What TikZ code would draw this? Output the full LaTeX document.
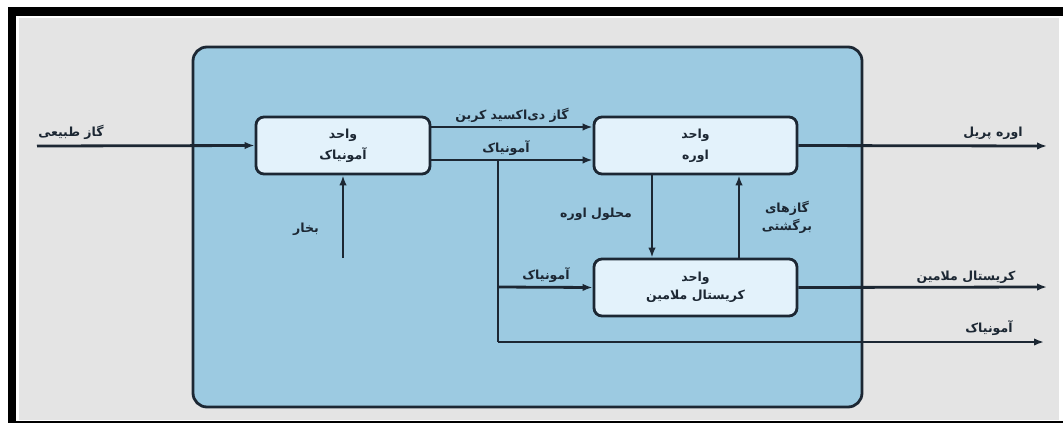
\documentclass[tikz,border=0pt]{standalone}
\usepackage{fontspec}
\usetikzlibrary{positioning, arrows.meta}
\TeXXeTstate=1
\newfontfamily\arabicfont[Script=Arabic, BoldFont={DejaVu Sans Bold}]{DejaVu Sans}
\newcommand{\fa}[1]{\beginR #1\endR}
\definecolor{pgrey}{HTML}{E4E4E4}
\definecolor{pblue}{HTML}{9CCAE1}
\definecolor{plight}{HTML}{E3F2FB}
\definecolor{pdark}{HTML}{1C2733}

\begin{document}
\begin{tikzpicture}[x=1pt, y=-1pt,
    unitbox/.style={draw=pdark, line width=2.8pt, fill=plight, rounded corners=8pt,
        minimum height=57pt, align=center, text=pdark,
        font=\arabicfont\bfseries\fontsize{12.5}{21}\selectfont},
    flow/.style={draw=pdark, line width=2.8pt, -{Latex[length=10pt, width=7.5pt]}},
    pipe/.style={draw=pdark, line width=2.8pt},
    tag/.style={text=pdark, inner sep=0pt, align=center,
        font=\arabicfont\bfseries\fontsize{12.5}{18}\selectfont}]
    % frame and background
    \useasboundingbox (0,0) rectangle (1063,423);
    \fill[white] (0,0) rectangle (1063,423);
    \fill[black] (8,7) rectangle (1063,423);
    \fill[white] (16,16) rectangle (1063,421);
    \fill[pgrey] (19,18) rectangle (1059,420);

    % plant boundary
    \draw[pdark, line width=2.8pt, fill=pblue, rounded corners=14pt] (193,47) rectangle (862,407);

    % units
    \node[unitbox, minimum width=174pt] (ammonia) at (343,145.5) {\fa{واحد}\\\fa{آمونیاک}};
    \node[unitbox, minimum width=203pt] (urea) at (695.5,145.5) {\fa{واحد}\\\fa{اوره}};
    \node[unitbox, minimum width=203pt, font=\arabicfont\bfseries\fontsize{12.5}{18}\selectfont] (melamine) at (695.5,287.5) {\fa{واحد}\\\fa{کریستال ملامین}};

    % free ends
    \coordinate (gasin) at (37,146);
    \coordinate (steamin) at (343,258);
    \coordinate (prillout) at (1047,146);
    \coordinate (crystalout) at (1047,287);
    \coordinate (nh3out) at (1044,342);
    \coordinate (split) at (498,160);
    \coordinate (corner) at (498,342);
    \coordinate (branch) at (498,287);

    % streams
    \draw[flow] (gasin) -- (ammonia.west);
    \draw[flow] (ammonia.east |- 0,127) -- (urea.west |- 0,127);
    \draw[flow] (ammonia.east |- split) -- (urea.west |- split);
    \draw[flow] (steamin) -- (ammonia.south);
    \draw[flow] (urea.east) -- (prillout);
    \draw[flow] (urea.south -| 652,0) -- (melamine.north -| 652,0);
    \draw[flow] (melamine.north -| 739,0) -- (urea.south -| 739,0);
    \draw[flow] (melamine.east) -- (crystalout);
    \draw[pipe] (split) -- (corner);
    \draw[flow] (corner) -- (nh3out);
    \draw[flow] (branch) -- (melamine.west);

    % labels
    \node[tag] (gaslbl) at (71,132) {\fa{گاز طبیعی}};
    \node[tag] (co2lbl) at (512,115) {\fa{گاز دی‌اکسید کربن}};
    \node[tag] (nh3lbl) at (506,148) {\fa{آمونیاک}};
    \node[tag] (steamlbl) at (306,229) {\fa{بخار}};
    \node[tag] (sollbl) at (596,214) {\fa{محلول اوره}};
    \node[tag] (recyclbl) at (787,217) {\fa{گازهای}\\\fa{برگشتی}};
    \node[tag] (prilllbl) at (993,133) {\fa{اوره پریل}};
    \node[tag] (crystallbl) at (966,277) {\fa{کریستال ملامین}};
    \node[tag] (branchlbl) at (546,275) {\fa{آمونیاک}};
    \node[tag] (nh3outlbl) at (989,328) {\fa{آمونیاک}};
\end{tikzpicture}
\end{document}
